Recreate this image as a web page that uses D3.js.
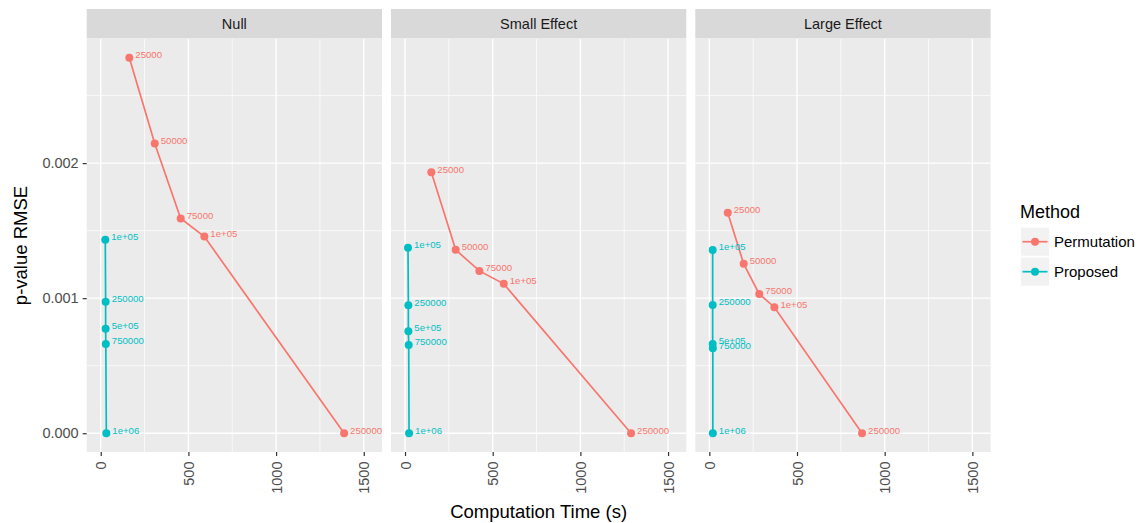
<!DOCTYPE html>
<html><head><meta charset="utf-8">
<script src="https://cdn.jsdelivr.net/npm/d3@7"></script>
<style>body{margin:0;background:#fff}svg{display:block;font-family:"Liberation Sans",Arial,sans-serif}</style>
</head><body>
<svg id="chart" width="1140" height="523"></svg>
<script>
// ---- data ----
const panelNames = ["Null", "Small Effect", "Large Effect"];
const methods = ["Permutation", "Proposed"];
const methodColors = ["#F8766D", "#00BFC4"];
const permLabels = ["25000", "50000", "75000", "1e+05", "250000"];
const propLabels = ["1e+05", "250000", "5e+05", "750000", "1e+06"];

const nullPermTime = [163, 308, 456, 591, 1388];
const nullPermRmse = [0.00278, 0.002145, 0.00159, 0.001456, 0];
const nullPropTime = [26, 28, 28, 29, 32];
const nullPropRmse = [0.001432, 0.000973, 0.000773, 0.000661, 0];

const smallPermTime = [150, 289, 424, 563, 1289];
const smallPermRmse = [0.001933, 0.001358, 0.001202, 0.001106, 0];
const smallPropTime = [17, 19, 19, 21, 23];
const smallPropRmse = [0.001373, 0.000948, 0.000756, 0.000654, 0];

const largePermTime = [105, 196, 285, 371, 871];
const largePermRmse = [0.001632, 0.001254, 0.00103, 0.000933, 0];
const largePropTime = [19, 19, 19, 20, 20];
const largePropRmse = [0.001356, 0.00095, 0.000661, 0.00063, 0];

const xLimits = [-80, 1604];
const xTicks = [0, 500, 1000, 1500];
const xMinor = [250, 750, 1250];
const yTicks = [0, 0.001, 0.002];
const yMinor = [0.0005, 0.0015, 0.0025];
const yTickLabels = ["0.000", "0.001", "0.002"];

// ---- build series ----
function series(times, rmses, labels) {
  return times.map((t, i) => ({ t: t, r: rmses[i], label: labels[i] }));
}
const panelData = [
  [series(nullPermTime, nullPermRmse, permLabels), series(nullPropTime, nullPropRmse, propLabels)],
  [series(smallPermTime, smallPermRmse, permLabels), series(smallPropTime, smallPropRmse, propLabels)],
  [series(largePermTime, largePermRmse, permLabels), series(largePropTime, largePropRmse, propLabels)]
];

// ---- layout ----
const svg = d3.select("#chart");
const panelLeft = [86.7, 391, 695.3];
const panelW = 295.3;
const panelTop = 39, panelBottom = 452;
const stripTop = 9;

const allR = panelData.flat(2).map(d => d.r);
const [rMin, rMax] = d3.extent(allR);
const rPad = (rMax - rMin) * 0.05;
const y = d3.scaleLinear().domain([rMin - rPad, rMax + rPad]).range([panelBottom, panelTop]);

const tickColor = "#4D4D4D";

panelNames.forEach((name, pi) => {
  const x0 = panelLeft[pi];
  const x = d3.scaleLinear().domain(xLimits).range([x0, x0 + panelW]);
  const g = svg.append("g");

  // strip
  g.append("rect").attr("x", x0).attr("y", stripTop).attr("width", panelW).attr("height", panelTop - stripTop - 0.5).attr("fill", "#D9D9D9");
  g.append("text").attr("x", x0 + panelW / 2).attr("y", (stripTop + panelTop) / 2).attr("dy", "0.35em")
    .attr("text-anchor", "middle").attr("font-size", 14.5).attr("fill", "#1A1A1A").text(name);

  // panel bg
  g.append("rect").attr("x", x0).attr("y", panelTop).attr("width", panelW).attr("height", panelBottom - panelTop).attr("fill", "#EBEBEB");

  // grid
  const grid = g.append("g");
  xMinor.forEach(v => grid.append("line").attr("x1", x(v)).attr("x2", x(v)).attr("y1", panelTop).attr("y2", panelBottom).attr("stroke", "#fff").attr("stroke-width", 0.7));
  yMinor.forEach(v => grid.append("line").attr("y1", y(v)).attr("y2", y(v)).attr("x1", x0).attr("x2", x0 + panelW).attr("stroke", "#fff").attr("stroke-width", 0.7));
  xTicks.forEach(v => grid.append("line").attr("x1", x(v)).attr("x2", x(v)).attr("y1", panelTop).attr("y2", panelBottom).attr("stroke", "#fff").attr("stroke-width", 1.4));
  yTicks.forEach(v => grid.append("line").attr("y1", y(v)).attr("y2", y(v)).attr("x1", x0).attr("x2", x0 + panelW).attr("stroke", "#fff").attr("stroke-width", 1.4));

  // clip
  const clipId = "clip" + pi;
  svg.append("clipPath").attr("id", clipId).append("rect").attr("x", x0).attr("y", panelTop).attr("width", panelW).attr("height", panelBottom - panelTop);
  const plot = g.append("g").attr("clip-path", `url(#${clipId})`);

  const line = d3.line().x(d => x(d.t)).y(d => y(d.r));
  panelData[pi].forEach((s, si) => {
    plot.append("path").datum(s).attr("d", line).attr("fill", "none").attr("stroke", methodColors[si]).attr("stroke-width", 1.7);
  });
  panelData[pi].forEach((s, si) => {
    plot.selectAll(null).data(s).enter().append("circle").attr("cx", d => x(d.t)).attr("cy", d => y(d.r)).attr("r", 4).attr("fill", methodColors[si]);
  });
  panelData[pi].forEach((s, si) => {
    plot.selectAll(null).data(s).enter().append("text").attr("x", d => x(d.t) + 6).attr("y", d => y(d.r) - 3).attr("dy", "0.35em")
      .attr("font-size", 9.6).attr("fill", methodColors[si]).text(d => d.label);
  });

  // x axis
  const xa = g.append("g").attr("transform", `translate(0,${panelBottom})`)
    .call(d3.axisBottom(x).tickValues(xTicks).tickSize(4).tickPadding(5).tickFormat(d3.format("d")));
  xa.select(".domain").remove();
  xa.selectAll(".tick line").attr("stroke", "#333").attr("stroke-width", 1.2);
  xa.selectAll(".tick text").attr("font-size", 14.5).attr("fill", tickColor).attr("font-family", null)
    .attr("transform", "rotate(-90)").attr("text-anchor", "end").attr("x", -9.5).attr("y", 0).attr("dy", "0.35em");

  if (pi === 0) {
    const ya = g.append("g").attr("transform", `translate(${x0},0)`)
      .call(d3.axisLeft(y).tickValues(yTicks).tickSize(4).tickPadding(4).tickFormat((d, i) => yTickLabels[i]));
    ya.select(".domain").remove();
    ya.selectAll(".tick line").attr("stroke", "#333").attr("stroke-width", 1.2);
    ya.selectAll(".tick text").attr("font-size", 14.5).attr("fill", tickColor).attr("font-family", null);
  }
});

// axis titles
svg.append("text").attr("x", (panelLeft[0] + panelLeft[2] + panelW) / 2).attr("y", 518).attr("text-anchor", "middle")
  .attr("font-size", 18.5).attr("fill", "#000").text("Computation Time (s)");
svg.append("text").attr("transform", `translate(27,${(panelTop + panelBottom) / 2}) rotate(-90)`).attr("text-anchor", "middle")
  .attr("font-size", 18.5).attr("fill", "#000").text("p-value RMSE");

// legend
const lg = svg.append("g");
lg.append("text").attr("x", 1020).attr("y", 218).attr("font-size", 18).attr("fill", "#000").text("Method");
methods.forEach((m, i) => {
  const ky = 227.7 + i * 30;
  lg.append("rect").attr("x", 1021).attr("y", ky).attr("width", 28).attr("height", 28).attr("fill", "#F2F2F2");
  lg.append("line").attr("x1", 1022.5).attr("x2", 1047.5).attr("y1", ky + 14).attr("y2", ky + 14).attr("stroke", methodColors[i]).attr("stroke-width", 1.7);
  lg.append("circle").attr("cx", 1035).attr("cy", ky + 14).attr("r", 4).attr("fill", methodColors[i]);
  lg.append("text").attr("x", 1054).attr("y", ky + 14).attr("dy", "0.35em").attr("font-size", 15).attr("fill", "#000").text(m);
});
</script>
</body></html>
